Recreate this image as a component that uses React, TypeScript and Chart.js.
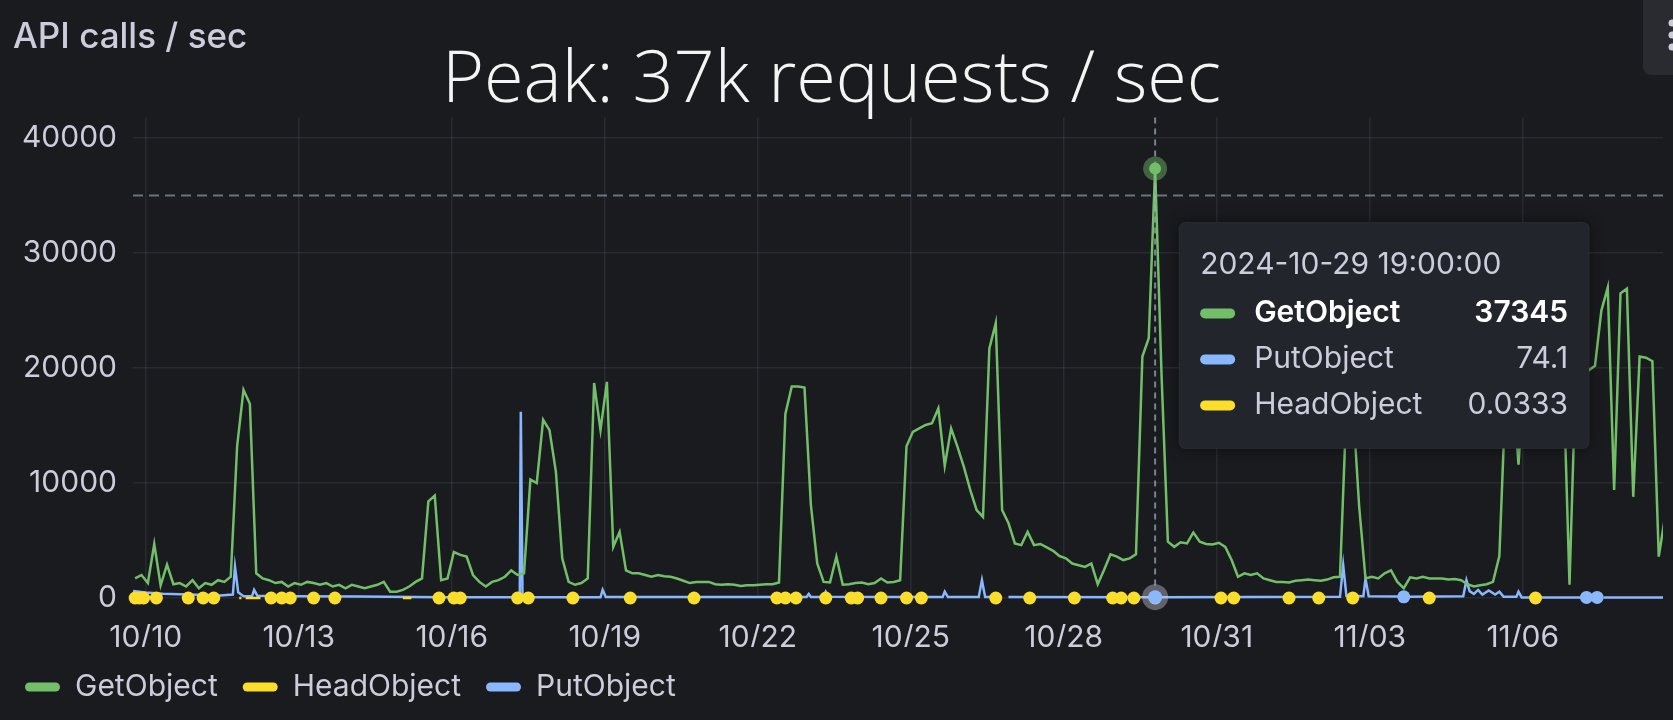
import React, { useEffect, useRef } from "react";
import { Chart, registerables } from "chart.js";

Chart.register(...registerables);

// x values are hours counted from 2024-10-10 00:00
const START_HOUR = -5; // 2024-10-09 19:00
const STEP_HOURS = 3;
const X_MIN = -6;
const X_MAX = 714;

// GetObject, one value every 3 hours
const getObject = [
  1700, 2000, 1300, 4700, 1100, 2900, 1200, 1300, 1000, 1550,
  850, 1300, 1150, 1550, 1400, 1850, 13200, 18100, 16900, 2150,
  1700, 1550, 1300, 1400, 1000, 1300, 1150, 1400, 1300, 1150,
  1300, 1000, 1150, 850, 1150, 1000, 850, 1000, 1150, 1400,
  550,
  550, 700, 1000, 1400, 1700, 8400, 8900, 1550, 1700, 4000,
  3750, 3600, 2000, 1400, 1000, 1400, 1550, 1850, 2400, 2000,
  2150, 10300, 10000, 15500, 14600, 11000, 3450, 1400, 1150, 1300,
  1700, 18700, 14600, 18800, 4450, 5750, 2400, 2150, 2150, 2000,
  1850,
  2000, 1900, 1850, 1700, 1500, 1300, 1400, 1400, 1400, 1200,
  1150, 1200, 1150, 1050, 1100, 1100, 1150, 1200, 1200, 1350,
  16000, 18400, 18400, 18300, 8100, 3000, 1400, 1350, 3600, 1150,
  1200, 1300, 1350, 1200, 1300, 1700, 1350, 1400, 1550, 13200,
  14450,
  14750, 15050, 15200, 16500, 11500, 14750, 13150, 11400, 9400, 7650,
  7050, 21700, 23900, 7650, 6500, 4750, 4600, 5750, 4600, 4700,
  4400, 4100, 3650, 3450, 3000, 2850, 2700, 3000, 1200, 2450,
  3800, 3600, 3300, 3450, 3800, 21000, 22600, 37345, 19500, 4900,
  4450,
  4850, 4750, 5700, 4900, 4700, 4650, 4800, 4450, 3300, 1850,
  2150, 2000, 2150, 1700, 1550, 1400, 1400, 1350, 1500, 1550,
  1600, 1550, 1500, 1600, 1800, 1850, 16500, 17000, 8000, 1700,
  1850, 1700, 2150, 2400, 1400, 850, 1800, 1700, 1850, 1700,
  1700, 1700, 1600, 1650, 1550, 1200, 1000, 1100, 1200, 1400,
  3650, 18000, 19600, 11600, 20300, 20100, 19800, 20400, 20000, 19700,
  20100, 1150, 19900, 20200, 19800, 20200, 25000, 27000, 9400, 26500,
  26900, 8800, 21000, 20900, 20600, 3600, 7100,
];

// PutObject vertices (null = no data)
const putHours = [
  -6, 0, 8, 20, 35, 41, 42, 43.5, 46, 50, 51, 52.5, 70, 100, 140, 176, 176.5, 177.3,
  214, 215, 216.5, 300, 311, 312, 313, 319, 320, 321.5, 360, 375, 376, 377.5,
  392, 393.5, 395, 401, 402, 406, 474, 475, 520, 562, 563.5, 565, 573, 574, 575.5,
  590, 591, 592, 593, 594, 620, 621.5, 623, 625, 627, 629, 632, 635, 637, 639,
  645, 646, 647.5, 676, 677, 678, 679, 683, 684, 686, 714,
];
const putValues = [
  620, 480, 380, 300, 220, 300, 2700, 500, 150, 150, 700, 200, 150, 120, 60, 60, 16200, 60,
  60, 700, 80, 80, 80, 350, 80, 80, 550, 100, 80, 80, 550, 80,
  80, 1550, 80, 80, null, 80, 74, 74.1, 90, 100, 2850, 200, 150, 1700, 150,
  120, null, 100, null, 100, 150, 1550, 600, 350, 700, 300, 650, 300, 550, 100,
  100, 550, 50, 50, null, 50, null, 50, null, 50, 50,
];

// HeadObject samples (isolated hours show as dots)
const headHours = [
  -5, -3, -1, 5, 20, 27, 32, 44, 45, 47, 48, 49, 50, 51, 52, 53, 54, 59, 64, 68,
  79, 89, 121, 122, 123, 124, 125, 138, 145, 148, 175, 180, 201, 228, 258, 297, 301,
  306, 320, 332, 335, 346, 358, 365, 400, 416, 437, 455, 459, 465, 475, 506, 512,
  538, 552, 568, 604, 654,
];
const headValues = [
  0.0333, 0.0333, 0.0667, 0.0333, 0.0333, 0.0333, 0.0333, 0.0333, 0.0333, 0.0333,
  0.0333, 0.0333, 0.0333, 0.0333, 0.0333, 0.0333, 0.0333, 0.0333, 0.0333, 0.0667,
  0.0333, 0.0333, 0.0333, 0.0333, 0.0333, 0.0333, 0.0333, 0.0333, 0.0333, 0.0333,
  0.0333, 0.0333, 0.0333, 0.0333, 0.0333, 0.0333, 0.0667, 0.0333, 0.0333, 0.0333,
  0.0333, 0.0333, 0.0333, 0.0333, 0.0333, 0.0333, 0.0333, 0.0333, 0.0333, 0.0333,
  0.0333, 0.0333, 0.0333, 0.0333, 0.0333, 0.0333, 0.0333, 0.0333,
];

const xTickHours = [0, 72, 144, 216, 288, 360, 432, 504, 576, 648];
const xTickLabels = ["10/10", "10/13", "10/16", "10/19", "10/22", "10/25", "10/28", "10/31", "11/03", "11/06"];
const yTicks = [0, 10000, 20000, 30000, 40000];
const Y_MAX = 41800;

const THRESHOLD = 35000;
const HOVER_HOUR = 475;
const HOVER_TIME = "2024-10-29 19:00:00";

const GREEN = "#73bf69";
const BLUE = "#8ab8ff";
const YELLOW = "#fade2a";
const TEXT = "#ccccdc";
const BG = "#1a1b1f";
const FONT = "Inter, 'Noto Sans', sans-serif";

const getData = getObject.map((v, i) => ({ x: START_HOUR + i * STEP_HOURS, y: v }));
const putData = putHours.map((h, i) => ({ x: h, y: putValues[i] }));
const headData: { x: number; y: number | null }[] = [];
headHours.forEach((h, i) => {
  if (i > 0 && h - headHours[i - 1] > 1) headData.push({ x: (h + headHours[i - 1]) / 2, y: null });
  headData.push({ x: h, y: headValues[i] });
});

// only points with no neighbours get a dot, like Grafana's "auto" points
const loneRadius = (r: number) => (ctx: any) => {
  const d = ctx.dataset.data;
  const i = ctx.dataIndex;
  if (!d[i] || d[i].y == null) return 0;
  const prev = i > 0 ? d[i - 1].y : null;
  const next = i < d.length - 1 ? d[i + 1].y : null;
  return prev == null && next == null ? r : 0;
};

const valueAt = (hours: number[], values: (number | null)[], h: number) => values[hours.indexOf(h)];

const roundRect = (ctx: CanvasRenderingContext2D, x: number, y: number, w: number, h: number, r: number) => {
  ctx.beginPath();
  ctx.moveTo(x + r, y);
  ctx.arcTo(x + w, y, x + w, y + h, r);
  ctx.arcTo(x + w, y + h, x, y + h, r);
  ctx.arcTo(x, y + h, x, y, r);
  ctx.arcTo(x, y, x + w, y, r);
  ctx.closePath();
};

const panelPlugin = {
  id: "panelDecor",
  beforeDatasetsDraw(chart: any) {
    const { ctx, chartArea, scales } = chart;
    const y = scales.y.getPixelForValue(THRESHOLD);
    ctx.save();
    ctx.strokeStyle = "rgba(175, 190, 205, 0.55)";
    ctx.lineWidth = 2;
    ctx.setLineDash([10, 6]);
    ctx.beginPath();
    ctx.moveTo(chartArea.left, y);
    ctx.lineTo(chartArea.right, y);
    ctx.stroke();
    ctx.restore();
  },
  afterDatasetsDraw(chart: any) {
    const { ctx, chartArea, scales } = chart;
    const cx = scales.x.getPixelForValue(HOVER_HOUR);
    ctx.save();
    ctx.strokeStyle = "rgba(160, 175, 195, 0.7)";
    ctx.lineWidth = 2;
    ctx.setLineDash([6, 5]);
    ctx.beginPath();
    ctx.moveTo(cx, chartArea.top);
    ctx.lineTo(cx, chartArea.bottom);
    ctx.stroke();
    ctx.setLineDash([]);

    const gy = scales.y.getPixelForValue(getObject[(HOVER_HOUR - START_HOUR) / STEP_HOURS]);
    ctx.fillStyle = "rgba(115, 191, 105, 0.45)";
    ctx.beginPath();
    ctx.arc(cx, gy, 12, 0, Math.PI * 2);
    ctx.fill();
    ctx.fillStyle = GREEN;
    ctx.beginPath();
    ctx.arc(cx, gy, 6, 0, Math.PI * 2);
    ctx.fill();

    const py = scales.y.getPixelForValue(valueAt(putHours, putValues, HOVER_HOUR));
    ctx.fillStyle = "rgba(204, 204, 220, 0.4)";
    ctx.beginPath();
    ctx.arc(cx, py, 13, 0, Math.PI * 2);
    ctx.fill();
    ctx.fillStyle = BLUE;
    ctx.beginPath();
    ctx.arc(cx, py, 7, 0, Math.PI * 2);
    ctx.fill();
    ctx.restore();
  },
  afterDraw(chart: any) {
    const { ctx, chartArea, scales, width } = chart;
    ctx.save();
    // panel header
    ctx.fillStyle = TEXT;
    ctx.font = `500 35px ${FONT}`;
    ctx.textBaseline = "middle";
    ctx.textAlign = "left";
    ctx.fillText("API calls / sec", 13, 37);

    ctx.fillStyle = "#2a2b30";
    roundRect(ctx, width - 30, -12, 60, 87, 8);
    ctx.fill();
    ctx.fillStyle = TEXT;
    [23, 35, 47].forEach((dy) => {
      ctx.beginPath();
      ctx.arc(width - 1, dy, 3.5, 0, Math.PI * 2);
      ctx.fill();
    });

    // tooltip
    const cx = scales.x.getPixelForValue(HOVER_HOUR);
    const bx = cx + 24;
    const by = chartArea.top + 105;
    const bw = 410;
    const bh = 226;
    ctx.shadowColor = "rgba(0, 0, 0, 0.5)";
    ctx.shadowBlur = 14;
    ctx.fillStyle = "#22252b";
    roundRect(ctx, bx, by, bw, bh, 6);
    ctx.fill();
    ctx.shadowBlur = 0;
    ctx.strokeStyle = "rgba(204, 204, 220, 0.08)";
    ctx.lineWidth = 1;
    ctx.stroke();

    ctx.fillStyle = TEXT;
    ctx.font = `400 30px ${FONT}`;
    ctx.fillText(HOVER_TIME, bx + 21, by + 43);

    const rows = [
      { name: "GetObject", color: GREEN, value: getObject[(HOVER_HOUR - START_HOUR) / STEP_HOURS], bold: true },
      { name: "PutObject", color: BLUE, value: valueAt(putHours, putValues, HOVER_HOUR), bold: false },
      { name: "HeadObject", color: YELLOW, value: valueAt(headHours, headValues, HOVER_HOUR), bold: false },
    ];
    rows.forEach((row, i) => {
      const ry = by + 91 + i * 46;
      ctx.fillStyle = row.color;
      roundRect(ctx, bx + 21, ry - 5, 35, 10, 5);
      ctx.fill();
      ctx.fillStyle = row.bold ? "#ffffff" : TEXT;
      ctx.font = `${row.bold ? 600 : 400} 30px ${FONT}`;
      ctx.textAlign = "left";
      ctx.fillText(row.name, bx + 75, ry);
      ctx.textAlign = "right";
      ctx.fillText(String(row.value), bx + bw - 21, ry);
    });
    ctx.restore();
  },
};

const App: React.FC = () => {
  const canvasRef = useRef<HTMLCanvasElement>(null);

  useEffect(() => {
    if (!canvasRef.current) return;
    document.body.style.margin = "0";
    document.body.style.background = BG;

    const chart = new Chart(canvasRef.current, {
      type: "line",
      data: {
        datasets: [
          {
            label: "GetObject",
            data: getData,
            borderColor: GREEN,
            backgroundColor: GREEN,
            borderWidth: 2.5,
            pointRadius: 0,
            tension: 0,
          },
          {
            label: "HeadObject",
            data: headData,
            borderColor: YELLOW,
            backgroundColor: YELLOW,
            borderWidth: 2.5,
            pointRadius: loneRadius(6.5),
            pointBorderWidth: 0,
            pointBackgroundColor: YELLOW,
            clip: false,
          },
          {
            label: "PutObject",
            data: putData,
            borderColor: BLUE,
            backgroundColor: BLUE,
            borderWidth: 2.5,
            pointRadius: loneRadius(6.5),
            pointBorderWidth: 0,
            pointBackgroundColor: BLUE,
            clip: false,
          },
        ],
      },
      options: {
        animation: false,
        responsive: true,
        maintainAspectRatio: false,
        events: [],
        layout: { padding: { left: 0, right: 10, top: 0, bottom: 8 } },
        scales: {
          x: {
            type: "linear",
            min: X_MIN,
            max: X_MAX,
            afterBuildTicks: (scale: any) => {
              scale.ticks = xTickHours.map((v) => ({ value: v }));
            },
            afterFit: (scale: any) => {
              scale.height = 49;
            },
            ticks: {
              autoSkip: false,
              maxRotation: 0,
              padding: 22,
              color: TEXT,
              font: { family: FONT, size: 30 },
              callback: (value: any) => xTickLabels[xTickHours.indexOf(Number(value))] ?? "",
            },
            grid: { color: "rgba(204, 204, 220, 0.09)", lineWidth: 1.5, drawTicks: false },
            border: { display: false },
          },
          y: {
            min: 0,
            max: Y_MAX,
            afterBuildTicks: (scale: any) => {
              scale.ticks = yTicks.map((v) => ({ value: v }));
            },
            afterFit: (scale: any) => {
              scale.width = 133;
            },
            ticks: {
              padding: 16,
              color: TEXT,
              font: { family: FONT, size: 30 },
              callback: (value: any) => String(value),
            },
            grid: { color: "rgba(204, 204, 220, 0.09)", lineWidth: 1.5, drawTicks: false },
            border: { display: false },
          },
        },
        plugins: {
          title: {
            display: true,
            text: "Peak: 37k requests / sec",
            color: "#f4f4f4",
            font: { family: "'Open Sans', Lato, sans-serif", size: 72, weight: 300, lineHeight: 0.95 },
            padding: { top: 47, bottom: 2 },
          },
          legend: {
            position: "bottom",
            align: "start",
            labels: {
              color: TEXT,
              font: { family: FONT, size: 30 },
              boxWidth: 35,
              boxHeight: 9,
              padding: 25,
              useBorderRadius: true,
              borderRadius: 4.5,
              generateLabels: (c: any) =>
                Chart.defaults.plugins.legend.labels.generateLabels(c).map((l: any) => ({ ...l, lineWidth: 0 })),
            },
          },
          tooltip: { enabled: false },
        },
      } as any,
      plugins: [panelPlugin],
    });

    return () => chart.destroy();
  }, []);

  return (
    <div style={{ position: "fixed", left: 0, top: 0, width: 1673, height: 720, background: BG }}>
      <canvas ref={canvasRef} />
    </div>
  );
};

export default App;
